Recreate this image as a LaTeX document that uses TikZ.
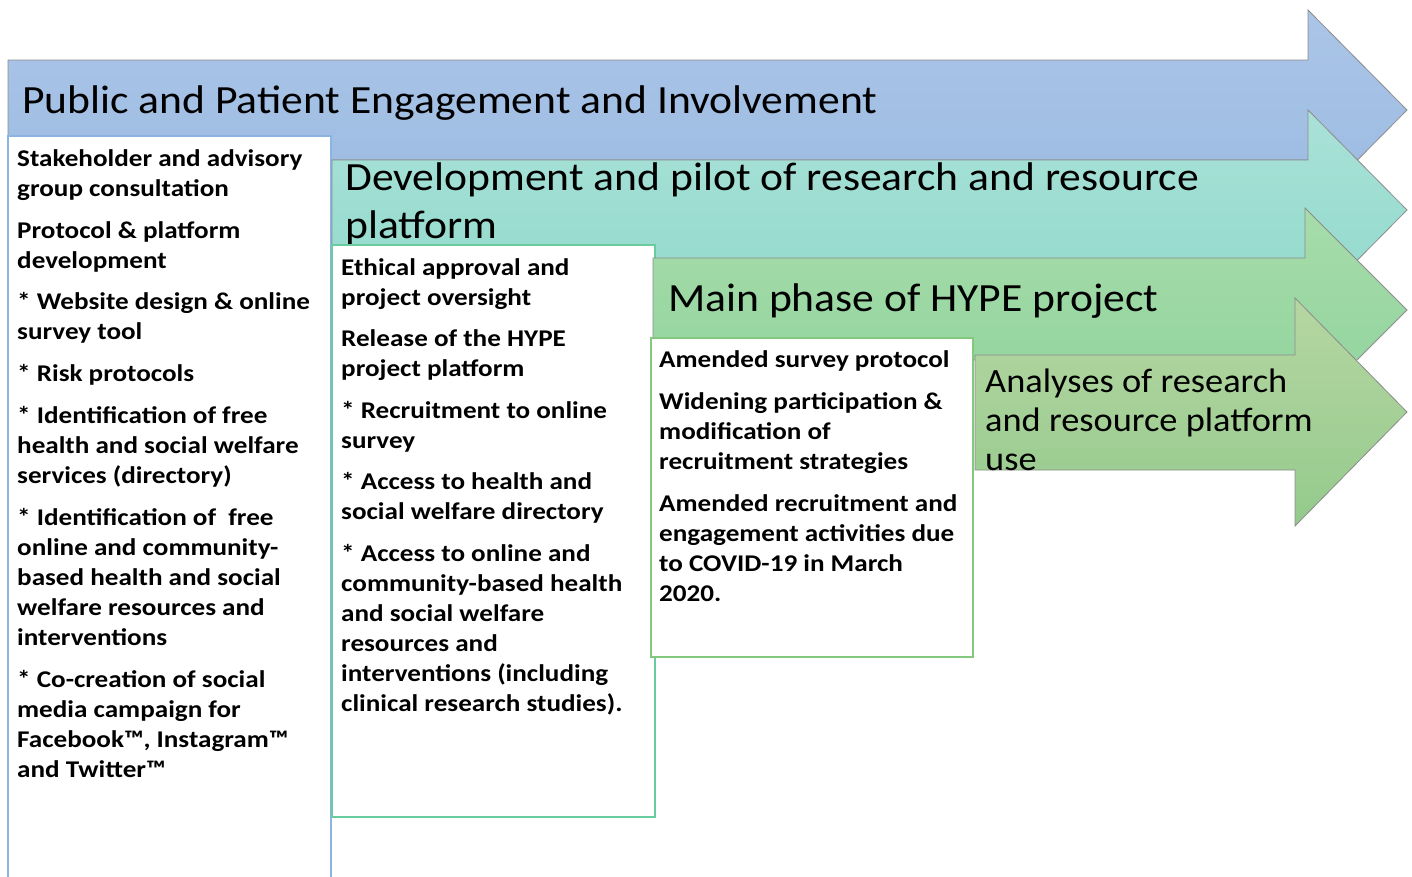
\documentclass[tikz,border=0pt]{standalone}
\usepackage{fontspec}
\setmainfont{Carlito}
\newfontfamily\titlefont[FakeStretch=1.09]{Carlito}
\newfontfamily\bodyfont[FakeStretch=1.13]{Carlito}
\newfontfamily\anafont[FakeStretch=1.07]{Carlito}
\definecolor{ppiTop}{RGB}{171,197,231}
\definecolor{ppiBot}{RGB}{155,186,226}
\definecolor{devTop}{RGB}{170,225,216}
\definecolor{devBot}{RGB}{144,218,203}
\definecolor{mainTop}{RGB}{167,220,170}
\definecolor{mainBot}{RGB}{143,211,157}
\definecolor{anaTop}{RGB}{182,214,162}
\definecolor{anaBot}{RGB}{148,202,140}
\definecolor{ppiEdge}{RGB}{140,180,224}
\definecolor{devEdge}{RGB}{105,204,158}
\definecolor{mainEdge}{RGB}{130,200,125}
\begin{document}
\begin{tikzpicture}[x=1pt,y=-1pt,
  arrowline/.style={draw=black!45,line width=0.8pt},
  stagebox/.style={fill=white,line width=1.2pt},
  phasetitle/.style={font=\titlefont\fontsize{40}{48}\selectfont,align=left,inner sep=0pt},
  steptext/.style={font=\bodyfont\fontsize{24}{30}\selectfont\bfseries,align=left,inner sep=0pt,anchor=north west}]
\useasboundingbox (0,0) rectangle (1412,876);
\begin{scope}
\clip (0,0) rectangle (1412,876);
% stage 1: engagement arrow and its box
\draw[arrowline,top color=ppiTop,bottom color=ppiBot]
  (8,60) -- (1308,60) -- (1308,10) -- (1407,110) -- (1308,210) -- (1308,160) -- (8,160) -- cycle;
\node[phasetitle,anchor=base west] (ppi) at (22,113) {Public and Patient Engagement and Involvement};
\draw[stagebox,draw=ppiEdge] (8,136) rectangle (331,880);
\node[steptext] (s1) at (17,148) {\rule{0pt}{18pt}Stakeholder and advisory\\ group consultation\\[11.8pt]
Protocol \& platform\\ development\\[11.8pt]
* Website design \& online\\ survey tool\\[11.8pt]
* Risk protocols\\[11.8pt]
* Identification of free\\ health and social welfare\\ services (directory)\\[11.8pt]
* Identification of\ \ free\\ online and community-\\ based health and social\\ welfare resources and\\ interventions\\[11.8pt]
* Co-creation of social\\ media campaign for\\ Facebook™, Instagram™\\ and Twitter™};
% stage 2: development arrow and its box
\draw[arrowline,top color=devTop,bottom color=devBot]
  (332,160) -- (1308,160) -- (1308,110) -- (1407,210) -- (1308,310) -- (1308,260) -- (332,260) -- cycle;
\node[phasetitle,anchor=north west] (dev) at (345,160) {\rule{0pt}{30pt}Development and pilot of research and resource\\ platform};
\draw[stagebox,draw=devEdge] (332,245) rectangle (655,817);
\node[steptext] (s2) at (341,257) {\rule{0pt}{18pt}Ethical approval and\\ project oversight\\[11.5pt]
Release of the HYPE\\ project platform\\[11.5pt]
* Recruitment to online\\ survey\\[11.5pt]
* Access to health and\\ social welfare directory\\[11.5pt]
* Access to online and\\ community-based health\\ and social welfare\\ resources and\\ interventions (including\\ clinical research studies).};
% stage 3: main phase arrow and its box
\draw[arrowline,top color=mainTop,bottom color=mainBot]
  (653,258) -- (1305,258) -- (1305,208) -- (1407,310) -- (1305,412) -- (1305,360) -- (653,360) -- cycle;
\node[phasetitle,anchor=base west] (main) at (668,311) {Main phase of HYPE project};
\draw[stagebox,draw=mainEdge] (651,338) rectangle (973,657);
\node[steptext] (s3) at (659,349) {\rule{0pt}{18pt}Amended survey protocol\\[12pt]
Widening participation \&\\ modification of\\ recruitment strategies\\[12pt]
Amended recruitment and\\ engagement activities due\\ to COVID-19 in March\\ 2020.};
% stage 4: analyses arrow
\draw[arrowline,top color=anaTop,bottom color=anaBot]
  (975,355) -- (1295,355) -- (1295,298) -- (1407,412) -- (1295,526) -- (1295,470) -- (975,470) -- cycle;
\node[font=\anafont\fontsize{34}{39}\selectfont,align=left,inner sep=0pt,anchor=north west] (ana) at (985,367)
  {\rule{0pt}{25pt}Analyses of research\\ and resource platform\\ use};
\end{scope}
\end{tikzpicture}
\end{document}
